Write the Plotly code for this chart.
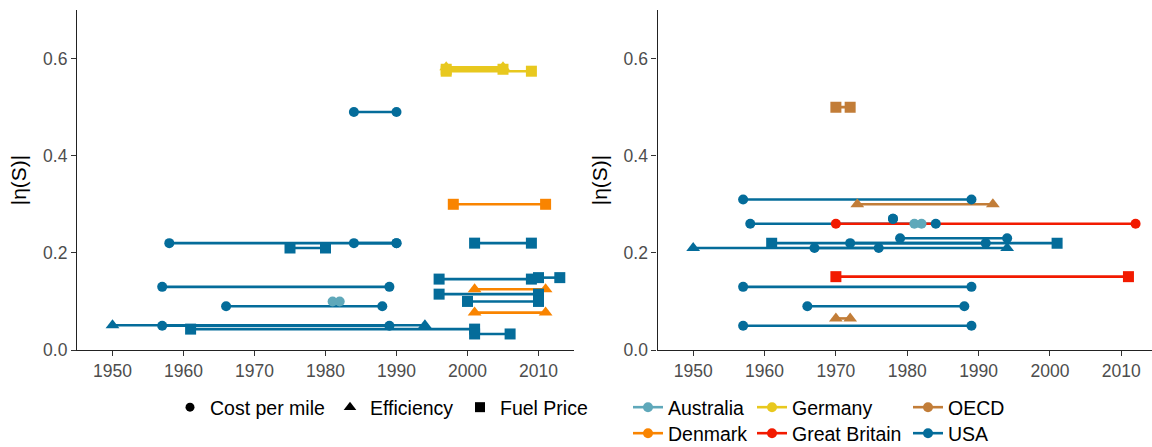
import plotly.graph_objects as go

# ---------------- data: horizontal segments of constant |eta(S)| ----------------
# Left panel
left_country = ["USA", "USA", "USA", "USA", "USA", "USA",
                "USA", "USA", "USA", "USA", "USA", "USA", "USA", "USA",
                "USA", "Australia", "Denmark", "Denmark", "Denmark",
                "Germany", "Germany", "Germany"]
left_measure = ["Cost per mile", "Cost per mile", "Cost per mile", "Cost per mile", "Cost per mile", "Cost per mile",
                "Fuel Price", "Fuel Price", "Fuel Price", "Fuel Price", "Fuel Price", "Fuel Price", "Fuel Price", "Fuel Price",
                "Efficiency", "Cost per mile", "Efficiency", "Efficiency", "Fuel Price",
                "Efficiency", "Fuel Price", "Fuel Price"]
left_start = [1958, 1984, 1957, 1966, 1957, 1984,
              1975, 2001, 1996, 2010, 1996, 2000, 1961, 2001,
              1950, 1981, 2001, 2001, 1998,
              1997, 1997, 1997]
left_end = [1990, 1990, 1989, 1988, 1989, 1990,
            1980, 2009, 2009, 2013, 2010, 2010, 2001, 2006,
            1994, 1982, 2011, 2011, 2011,
            2005, 2005, 2009]
left_value = [0.22, 0.22, 0.13, 0.09, 0.05, 0.49,
              0.21, 0.22, 0.146, 0.149, 0.115, 0.10, 0.043, 0.033,
              0.051, 0.10, 0.125, 0.077, 0.30,
              0.582, 0.578, 0.574]

# Right panel
right_country = ["USA", "USA", "USA", "USA", "USA", "USA", "USA", "USA", "USA",
                 "USA", "USA", "Australia", "Great Britain", "Great Britain",
                 "OECD", "OECD", "OECD"]
right_measure = ["Cost per mile", "Cost per mile", "Cost per mile", "Cost per mile", "Cost per mile",
                 "Cost per mile", "Cost per mile", "Cost per mile", "Cost per mile",
                 "Efficiency", "Fuel Price", "Cost per mile", "Cost per mile", "Fuel Price",
                 "Fuel Price", "Efficiency", "Efficiency"]
right_start = [1957, 1958, 1978, 1979, 1972, 1967, 1957, 1966, 1957,
               1950, 1961, 1981, 1970, 1970,
               1970, 1973, 1970]
right_end = [1989, 1984, 1978, 1994, 1991, 1976, 1989, 1988, 1989,
             1994, 2001, 1982, 2012, 2011,
             1972, 1992, 1972]
right_value = [0.31, 0.26, 0.27, 0.23, 0.22, 0.21, 0.13, 0.09, 0.05,
               0.21, 0.22, 0.26, 0.26, 0.151,
               0.50, 0.30, 0.065]

countries = ["Australia", "Denmark", "Germany", "Great Britain", "OECD", "USA"]
measures = ["Cost per mile", "Efficiency", "Fuel Price"]
year_ticks = [1950, 1960, 1970, 1980, 1990, 2000, 2010]
eta_ticks = [0.0, 0.2, 0.4, 0.6]
eta_labels = ["0.0", "0.2", "0.4", "0.6"]

# ---------------- styling ----------------
COLORS = {"Australia": "#5FA8BA", "Denmark": "#F98400", "Germany": "#E8C81E",
          "Great Britain": "#F21A00", "OECD": "#C27D38", "USA": "#046C9A"}
SYMBOLS = {"Cost per mile": "circle", "Efficiency": "triangle-up", "Fuel Price": "square"}
SIZES = {"Cost per mile": 10, "Efficiency": 12, "Fuel Price": 11}
LINE_ORDER = ["Australia", "Denmark", "Germany", "OECD", "USA", "Great Britain"]
POINT_ORDER = ["Great Britain", "Denmark", "Germany", "OECD", "USA", "Australia"]
FONT = "Liberation Sans, Arial, sans-serif"
W, H = 1152, 447

fig = go.Figure()


def add_panel(cty, meas, start, end, val, xa, ya):
    # segment lines underneath
    for c in LINE_ORDER:
        xs, ys = [], []
        for i in range(len(cty)):
            if cty[i] == c:
                xs += [start[i], end[i], None]
                ys += [val[i], val[i], None]
        if xs:
            fig.add_trace(go.Scatter(x=xs, y=ys, mode="lines", xaxis=xa, yaxis=ya,
                                     line=dict(color=COLORS[c], width=2.6),
                                     showlegend=False, hoverinfo="skip"))
    # end-point markers on top
    for c in POINT_ORDER:
        for m in measures:
            xs, ys = [], []
            for i in range(len(cty)):
                if cty[i] == c and meas[i] == m:
                    xs += [start[i], end[i]]
                    ys += [val[i], val[i]]
            if xs:
                fig.add_trace(go.Scatter(x=xs, y=ys, mode="markers", xaxis=xa, yaxis=ya,
                                         marker=dict(color=COLORS[c], symbol=SYMBOLS[m],
                                                     size=SIZES[m], line=dict(width=0)),
                                         showlegend=False, name=f"{c} – {m}"))


add_panel(left_country, left_measure, left_start, left_end, left_value, "x", "y")
add_panel(right_country, right_measure, right_start, right_end, right_value, "x2", "y2")

# ---------------- legends ----------------
legend_font = dict(family=FONT, size=19.5, color="black")


def legend_box(xpx, ypx, orientation="v"):
    return dict(x=xpx / W, y=1 - ypx / H, xanchor="left", yanchor="top",
                orientation=orientation, font=legend_font, bgcolor="rgba(0,0,0,0)",
                borderwidth=0, itemclick=False, itemdoubleclick=False, traceorder="normal")


# shape key (one horizontal row)
shape_widths = {"Cost per mile": 115, "Efficiency": 85, "Fuel Price": 90}
for m in measures:
    fig.add_trace(go.Scatter(x=[None], y=[None], mode="markers", name=m,
                             marker=dict(color="black", symbol=SYMBOLS[m], size=SIZES[m] - 1),
                             legend="legend", legendwidth=shape_widths[m]))

# colour key: 3 columns x 2 rows, one legend box per entry
colour_pos = {"Australia": (628, 388), "Denmark": (628, 414),
              "Germany": (752, 388), "Great Britain": (752, 414),
              "OECD": (908, 388), "USA": (908, 414)}
legend_boxes = {"legend": legend_box(170, 388, "h")}
for k, c in enumerate(countries):
    lid = f"legend{k + 2}"
    fig.add_trace(go.Scatter(x=[None], y=[None], mode="lines+markers", name=c,
                             line=dict(color=COLORS[c], width=2.6),
                             marker=dict(color=COLORS[c], symbol="circle", size=10),
                             legend=lid))
    legend_boxes[lid] = legend_box(*colour_pos[c])

# ---------------- axes ----------------
axis_common = dict(showgrid=False, zeroline=False, showline=True, linecolor="#222222",
                   linewidth=1.1, ticks="outside", ticklen=5, tickcolor="#333333",
                   tickwidth=1.1, tickfont=dict(family=FONT, size=17.5, color="#4D4D4D"))

y_dom = [(H - 350) / H, (H - 10) / H]
y_title = dict(text="|η(S)|", font=dict(family=FONT, size=21, color="black"), standoff=10)

fig.update_layout(
    width=W, height=H,
    margin=dict(l=0, r=0, t=0, b=0, autoexpand=False),
    paper_bgcolor="white", plot_bgcolor="white",
    font=dict(family=FONT),
    xaxis=dict(domain=[77 / W, 574 / W], range=[1945, 2015], tickvals=year_ticks, **axis_common),
    yaxis=dict(domain=y_dom, range=[0, 0.7], tickvals=eta_ticks, ticktext=eta_labels,
               title=y_title, **axis_common),
    xaxis2=dict(domain=[657.5 / W, 1.0], range=[1945, 2014.3], tickvals=year_ticks,
                anchor="y2", **axis_common),
    yaxis2=dict(domain=y_dom, range=[0, 0.7], tickvals=eta_ticks, ticktext=eta_labels,
                anchor="x2", title=y_title, **axis_common),
    hovermode="closest",
    **legend_boxes,
)

fig.write_html("out.html")
